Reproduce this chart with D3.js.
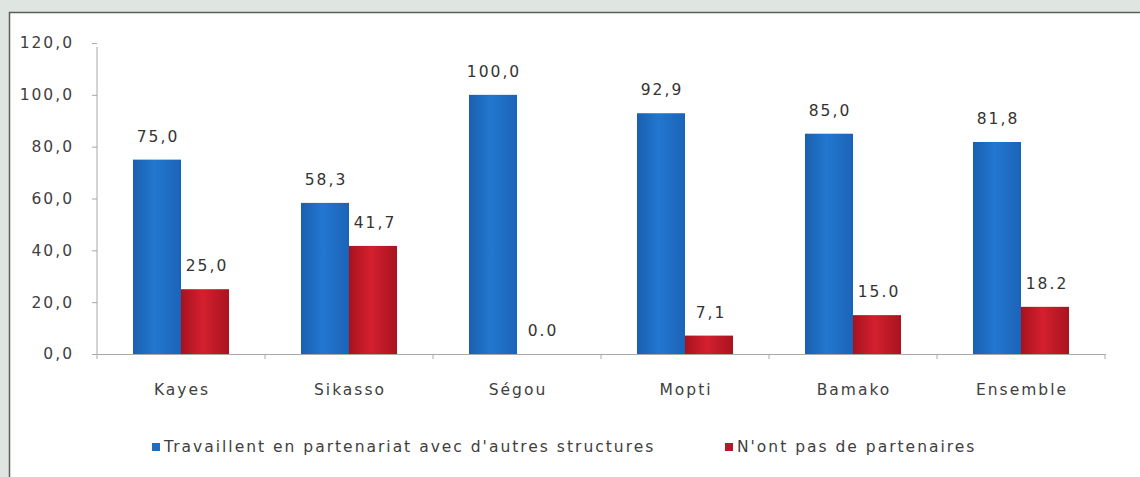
<!DOCTYPE html>
<html><head><meta charset="utf-8">
<script src="https://cdn.jsdelivr.net/npm/d3@7"></script>
<style>
html,body{margin:0;padding:0;background:#dfe5e1;}
svg{display:block;}
</style></head>
<body>
<svg id="c" width="1140" height="477"></svg>
<script>
const categories = ["Kayes","Sikasso","Ségou","Mopti","Bamako","Ensemble"];
const seriesNames = ["Travaillent en partenariat avec d'autres structures","N'ont pas de partenaires"];
const partenariat = [75.0, 58.3, 100.0, 92.9, 85.0, 81.8];
const sansPartenaire = [25.0, 41.7, 0.0, 7.1, 15.0, 18.2];
const labelsPartenariat = ["75,0","58,3","100,0","92,9","85,0","81,8"];
const labelsSans = ["25,0","41,7","0.0","7,1","15.0","18.2"];
const yTicks = [0,20,40,60,80,100,120];
const yTickLabels = ["0,0","20,0","40,0","60,0","80,0","100,0","120,0"];

(function(){
const svg = d3.select("#c");
const font = "'DejaVu Sans', 'Noto Sans', sans-serif";
const fs = 15.5, ls = 2;

svg.append("rect").attr("x",9.5).attr("y",12.5).attr("width",1140).attr("height",470)
  .attr("fill","#ffffff").attr("stroke","#5a5f5c").attr("stroke-width",1.5);

const defs = svg.append("defs");
function grad(id, c0, c1, c2){
  const g = defs.append("linearGradient").attr("id",id).attr("x1","0").attr("x2","1").attr("y1","0").attr("y2","0");
  g.append("stop").attr("offset","0").attr("stop-color",c0);
  g.append("stop").attr("offset","0.45").attr("stop-color",c1);
  g.append("stop").attr("offset","1").attr("stop-color",c2);
}
grad("gBlue","#1a5fb0","#2277cf","#1b63b8");
grad("gRed","#a8121f","#d41f2e","#a8141f");

const pLeft = 97, pRight = 1105, pTop = 43, pBottom = 354;
const x0 = d3.scaleBand().domain(categories).range([pLeft,pRight]).paddingInner(72/168).paddingOuter(36/168);
const x1 = d3.scaleBand().domain([0,1]).range([0,x0.bandwidth()]);
const y = d3.scaleLinear().domain([0,120]).range([pBottom,pTop]);

function styleText(sel){ sel.attr("font-family",font).attr("font-size",fs).attr("letter-spacing",ls).attr("fill","#404040"); }

const yAxis = d3.axisLeft(y).tickValues(yTicks).tickFormat((d,i)=>yTickLabels[i]).tickSize(5).tickPadding(18);
const ga = svg.append("g").attr("transform",`translate(${pLeft},0)`).call(yAxis);
ga.select(".domain").attr("stroke","#a8a8a8").attr("d",`M-0,${pTop+4}V${pBottom}`);
ga.selectAll(".tick line").attr("stroke","#a8a8a8");
ga.selectAll(".tick text").call(styleText);

const xa = svg.append("g").attr("transform",`translate(0,${pBottom})`)
  .call(d3.axisBottom(x0).tickSize(0).tickPadding(30));
xa.select(".domain").attr("stroke","#a8a8a8");
xa.selectAll(".tick text").call(styleText).attr("dx",1);
const bounds = d3.range(categories.length+1).map(i => pLeft + i*x0.step());
svg.append("g").selectAll("line").data(bounds).join("line")
  .attr("x1",d=>d).attr("x2",d=>d).attr("y1",pBottom).attr("y2",pBottom+5).attr("stroke","#a8a8a8");

const data = categories.map((c,i)=>({c, v:[partenariat[i], sansPartenaire[i]], l:[labelsPartenariat[i], labelsSans[i]]}));
const fills = ["url(#gBlue)","url(#gRed)"];

const g = svg.append("g").selectAll("g").data(data).join("g")
  .attr("transform",d=>`translate(${x0(d.c)},0)`);
g.selectAll("rect").data(d=>d.v.map((v,k)=>({v,k}))).join("rect")
  .attr("x",d=>x1(d.k)).attr("width",x1.bandwidth())
  .attr("y",d=>y(d.v)).attr("height",d=>pBottom-y(d.v))
  .attr("fill",d=>fills[d.k]);
g.selectAll("text").data(d=>d.v.map((v,k)=>({v,k,l:d.l[k]}))).join("text")
  .attr("x",d=>x1(d.k)+x1.bandwidth()/2 + (d.k===1?2:1))
  .attr("y",d=>y(d.v)-18)
  .attr("text-anchor","middle")
  .call(styleText).attr("fill","#333")
  .text(d=>d.l);

const legend = svg.append("g");
const legX = [152, 725];
const legColors = ["#1f6cc4","#b5182b"];
seriesNames.forEach((n,i)=>{
  legend.append("rect").attr("x",legX[i]).attr("y",443).attr("width",8).attr("height",8).attr("fill",legColors[i]);
  legend.append("text").attr("x",legX[i]+12).attr("y",452).call(styleText).text(n);
});
})();
</script>
</body></html>
